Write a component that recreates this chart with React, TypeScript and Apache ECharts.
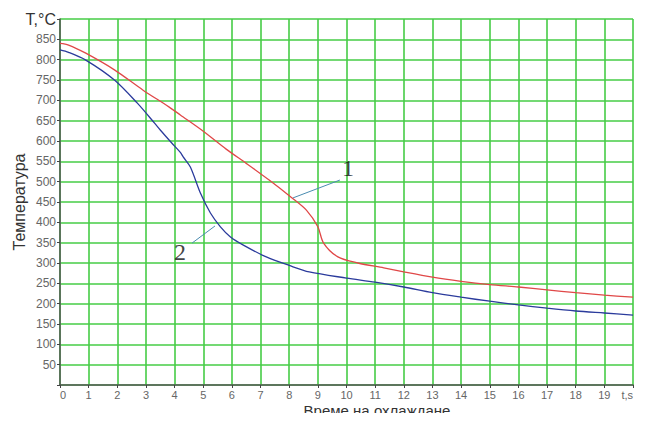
import React, { useEffect, useRef } from "react";
import * as echarts from "echarts";

// Curve 1 (red)
const time1 = [0, 0.3, 0.9, 1.9, 2.9, 3.8, 4.2, 5.0, 5.8, 6.5, 7.3, 8.1, 8.6, 9.0, 9.2, 9.7, 10.4, 11.3, 12, 13, 14, 15, 16, 17, 18, 19, 20];
const temp1 = [840, 836, 816, 775, 725, 684, 664, 624, 580, 545, 504, 460, 430, 389, 349, 315, 300, 288, 278, 265, 255, 247, 241, 234, 227, 221, 216];

// Curve 2 (blue)
const time2 = [0, 0.3, 0.9, 1.9, 2.7, 3.3, 3.5, 3.9, 4.2, 4.3, 4.55, 4.9, 5.25, 5.6, 5.95, 6.4, 7.2, 8.0, 8.7, 10.0, 11.0, 12, 13, 14, 15, 16, 17, 18, 19, 20];
const temp2 = [824, 818, 799, 750, 693, 644, 627, 595, 572, 561, 536, 472, 423, 389, 364, 344, 315, 294, 278, 263, 253, 241, 227, 216, 206, 197, 189, 182, 177, 172];

// Leader lines and their labels
const leader1 = [[8.13, 460], [9.77, 504]];
const leader2 = [[4.61, 349], [5.41, 391]];
const labelPoints = [
  { name: "1", pos: [10.05, 534] },
  { name: "2", pos: [4.19, 327] },
];

const xLabelLast = "t,s";
const yLabelLast = "T,°C";
const xTitle = "Време на охлаждане";
const yTitle = "Температура";

function zip(t: number[], v: number[]) {
  return t.map((x, i) => [x, v[i]]);
}

export default function App() {
  const ref = useRef<HTMLDivElement>(null);
  useEffect(() => {
    if (!ref.current) return;
    const chart = echarts.init(ref.current, null, { renderer: "svg" });
    const font = "Liberation Sans, Arial, sans-serif";
    chart.setOption({
      animation: false,
      backgroundColor: "#ffffff",
      grid: {
        left: 60,
        right: 12,
        top: 19,
        bottom: 36,
        containLabel: false,
        outerBoundsMode: "none",
      },
      graphic: [
        {
          type: "text",
          x: 377,
          y: 410,
          style: {
            text: xTitle,
            fontFamily: font,
            fontSize: 15,
            fill: "#333",
            align: "center",
            verticalAlign: "middle",
          },
        },
      ],
      xAxis: {
        type: "value",
        min: 0,
        max: 20,
        interval: 1,
        axisLine: { show: true, lineStyle: { color: "#555", width: 1.5 } },
        axisTick: { show: true, length: 3, lineStyle: { color: "#444" } },
        axisLabel: {
          fontFamily: font,
          fontSize: 11,
          lineHeight: 12,
          color: "#666",
          margin: 4,
          alignMinLabel: "left",
          alignMaxLabel: "right",
          formatter: (v: number) => (v === 20 ? xLabelLast : String(v)),
        },
        splitLine: { show: true, lineStyle: { color: "#46cc46", width: 1.6 } },
      },
      yAxis: {
        type: "value",
        min: 0,
        max: 900,
        interval: 50,
        name: yTitle,
        nameLocation: "middle",
        nameGap: 33,
        nameMoveOverlap: false,
        nameTextStyle: { fontFamily: font, fontSize: 16, color: "#333" },
        axisLine: { show: true, lineStyle: { color: "#555", width: 1.5 } },
        axisTick: { show: true, length: 3, lineStyle: { color: "#444" } },
        axisLabel: {
          fontFamily: font,
          fontSize: 12,
          color: "#666",
          margin: 4,
          formatter: (v: number) =>
            v === 0 ? "" : v === 900 ? `{big|${yLabelLast}}` : String(v),
          rich: {
            big: { fontFamily: font, fontSize: 16, color: "#333" },
          },
        },
        splitLine: { show: true, lineStyle: { color: "#46cc46", width: 1.6 } },
      },
      series: [
        {
          type: "line",
          data: zip(time1, temp1),
          showSymbol: false,
          smooth: 0.3,
          lineStyle: { color: "#e04848", width: 1.3 },
          silent: true,
        },
        {
          type: "line",
          data: zip(time2, temp2),
          showSymbol: false,
          smooth: 0.3,
          lineStyle: { color: "#2b3b9c", width: 1.3 },
          silent: true,
        },
        {
          type: "line",
          data: leader1,
          showSymbol: false,
          lineStyle: { color: "#4a8cb0", width: 1 },
          silent: true,
        },
        {
          type: "line",
          data: leader2,
          showSymbol: false,
          lineStyle: { color: "#4a8cb0", width: 1 },
          silent: true,
        },
        {
          type: "scatter",
          symbolSize: 0,
          silent: true,
          data: labelPoints.map((p) => ({ name: p.name, value: p.pos })),
          label: {
            show: true,
            position: "inside",
            formatter: (p: any) => p.name,
            fontFamily: "Liberation Serif, Times New Roman, serif",
            fontSize: 24,
            color: "#111",
          },
        },
      ],
    });
    return () => chart.dispose();
  }, []);
  return <div ref={ref} style={{ width: 645, height: 421, margin: -8 }} />;
}
